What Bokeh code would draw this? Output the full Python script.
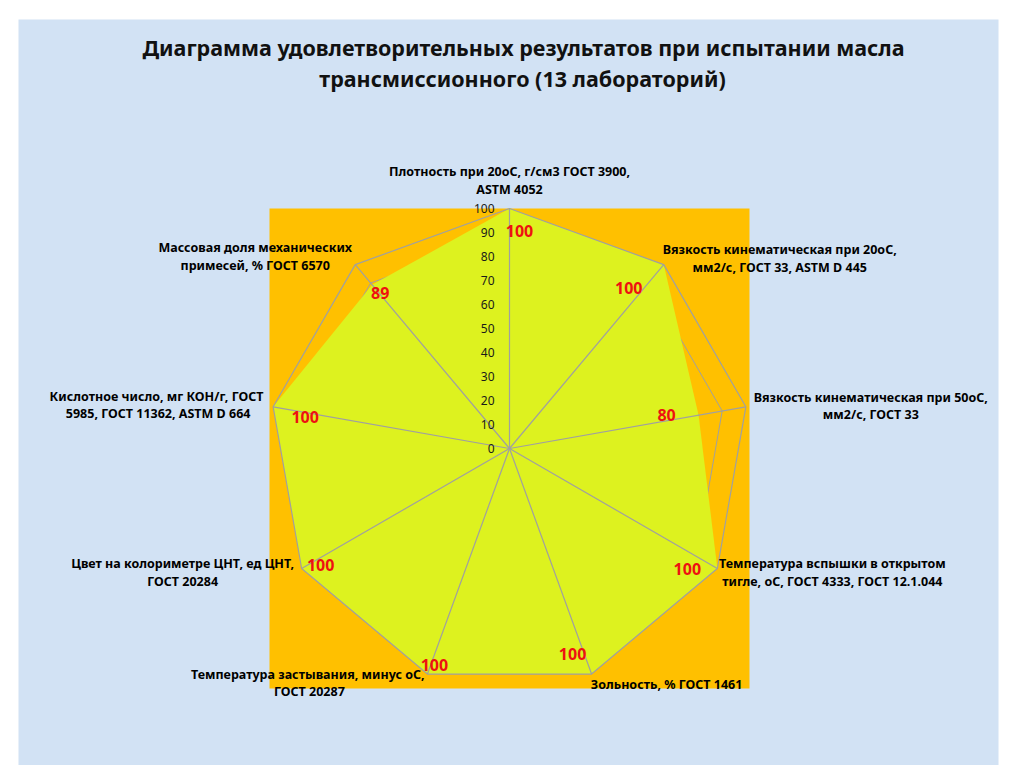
import numpy as np
from bokeh.plotting import figure
from bokeh.core.properties import value
from bokeh.embed import file_html
from bokeh.resources import INLINE

# ---- data ----
title_lines = ["Диаграмма удовлетворительных результатов при испытании масла",
               "трансмиссионного (13 лабораторий)"]
categories = [
    "Плотность при 20оС, г/см3 ГОСТ 3900,\nASTM 4052",
    "Вязкость кинематическая при 20оС,\nмм2/с, ГОСТ 33, ASTM D 445",
    "Вязкость кинематическая при 50оС,\nмм2/с, ГОСТ 33",
    "Температура вспышки в открытом\nтигле, оС, ГОСТ 4333, ГОСТ 12.1.044",
    "Зольность, % ГОСТ 1461",
    "Температура застывания,  минус оС,\nГОСТ 20287",
    "Цвет на колориметре ЦНТ, ед ЦНТ,\nГОСТ 20284",
    "Кислотное число, мг КОН/г,  ГОСТ\n5985, ГОСТ 11362, ASTM D 664",
    "Массовая доля механических\nпримесей, % ГОСТ 6570",
]
values = [100, 100, 80, 100, 100, 100, 100, 100, 89]
ticks = [0, 10, 20, 30, 40, 50, 60, 70, 80, 90, 100]

# ---- layout helpers (pixels per data unit, label offsets in px) ----
PX = 2.4
cat_off = [(0, -28), (116, -6), (125, -1), (115, 4), (75, 10),
           (-118, 9), (-119, 4), (-115, -2), (-100, -8)]
val_off = [(10, 22), (-35, 23), (-32, 0), (-30, 0), (-19, -20),
           (7, -9), (19, -4), (32, 10), (8, 8)]

n = len(categories)
ang = np.deg2rad(90 - 360.0 / n * np.arange(n))
rmax = ticks[-1]

W, H = 1008, 765
BL, BR, BT = 18, 10, 19
FW, FH = W - BL - BR, H - BT
CX, CY = 509 - BL, 448 - BT  # chart centre inside the frame (px)
p = figure(width=W, height=H, output_backend="svg", toolbar_location=None,
           x_axis_type=None, y_axis_type=None,
           x_range=(-CX / PX, (FW - CX) / PX), y_range=(-(FH - CY) / PX, CY / PX),
           min_border_left=BL, min_border_right=BR, min_border_top=BT, min_border_bottom=0)
p.grid.visible = False
p.outline_line_color = None
p.background_fill_color = "#D2E2F4"
p.border_fill_color = "white"

# plot area (orange square)
p.quad(left=-rmax, right=rmax, bottom=-rmax, top=rmax, fill_color="#FFC000", line_color=None)

grid_col = "#A0A0A0"
# inner grid rings (under the fill)
xs, ys = [], []
for t in ticks[1:-1]:
    xs.append(list(t * np.cos(ang)) + [t * np.cos(ang[0])])
    ys.append(list(t * np.sin(ang)) + [t * np.sin(ang[0])])
p.multi_line(xs, ys, line_color=grid_col, line_width=1)

# filled series
vals = np.array(values, dtype=float)
vx = vals * np.cos(ang)
vy = vals * np.sin(ang)
p.patch(list(vx), list(vy), fill_color="#DDF21F", line_color=None)

# outer ring
p.line(list(rmax * np.cos(ang)) + [rmax * np.cos(ang[0])],
       list(rmax * np.sin(ang)) + [rmax * np.sin(ang[0])], line_color=grid_col, line_width=1.2)
# spokes
p.multi_line([[0, rmax * np.cos(a)] for a in ang], [[0, rmax * np.sin(a)] for a in ang],
             line_color=grid_col, line_width=1.2)

# tick labels
p.text(x=[-15 / PX] * len(ticks), y=ticks, text=[str(t) for t in ticks],
       text_align="right", text_baseline="middle", text_font=value("Noto Sans"),
       text_font_size="12px", text_color="#1a1a1a")

# value labels
p.text(x=[vx[i] + val_off[i][0] / PX for i in range(n)],
       y=[vy[i] - val_off[i][1] / PX for i in range(n)],
       text=[str(v) for v in values], text_align="center", text_baseline="middle",
       text_font=value("Noto Sans"), text_font_style="bold", text_font_size="16px",
       text_color="#EE1111")

# category labels
cx = rmax * np.cos(ang)
cy = rmax * np.sin(ang)
p.text(x=[cx[i] + cat_off[i][0] / PX for i in range(n)],
       y=[cy[i] - cat_off[i][1] / PX for i in range(n)],
       text=categories, text_align="center", text_baseline="middle",
       text_font=value("Noto Sans"), text_font_style="bold", text_font_size="12.5px",
       text_line_height=1.03, text_color="black")

# title
p.text(x=[14 / PX, 13 / PX], y=[(448 - 47) / PX, (448 - 78) / PX], text=title_lines,
       text_align="center", text_baseline="middle", text_font=value("Noto Sans"),
       text_font_style="bold", text_font_size="21.5px", text_color="#111111")

open("out.html", "w").write(file_html(p, INLINE))
